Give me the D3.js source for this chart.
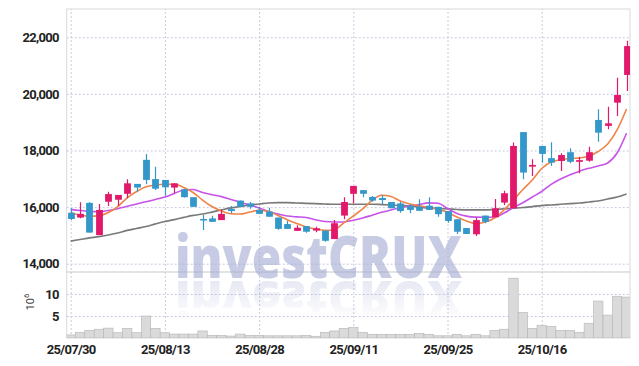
<!DOCTYPE html>
<html><head><meta charset="utf-8">
<script src="https://cdn.jsdelivr.net/npm/d3@7"></script>
<style>html,body{margin:0;padding:0;background:#fff;} svg{display:block;}</style>
</head><body><svg id="c" width="639" height="366"></svg>
<script>
const dates = ["25/07/30","25/07/31","25/08/01","25/08/04","25/08/05","25/08/06","25/08/07","25/08/08","25/08/11","25/08/12",
"25/08/13","25/08/14","25/08/18","25/08/19","25/08/20","25/08/21","25/08/22","25/08/25","25/08/26","25/08/27",
"25/08/28","25/08/29","25/09/01","25/09/02","25/09/03","25/09/04","25/09/05","25/09/08","25/09/09","25/09/10",
"25/09/11","25/09/12","25/09/15","25/09/16","25/09/17","25/09/18","25/09/19","25/09/22","25/09/23","25/09/24",
"25/09/25","25/09/26","25/09/29","25/09/30","25/10/01","25/10/02","25/10/10","25/10/13","25/10/14","25/10/15",
"25/10/16","25/10/17","25/10/20","25/10/21","25/10/22","25/10/23","25/10/24","25/10/27","25/10/28","25/10/29"];
const open  = [15800,15630,16150,15010,16190,16260,16470,16820,17670,16990,16960,16690,16630,16350,15580,15600,15540,15930,16230,16130,
15900,15840,15630,15400,15160,15330,15170,15170,14870,15700,16470,16600,16360,16320,16180,16130,16040,16010,16050,16010,
15860,15570,15260,15040,15700,15640,16160,15960,18650,17430,18160,17730,17630,17940,17600,17640,19080,18870,19690,20670];
const high  = [15960,16170,16170,16110,16540,16430,16980,16820,17880,17430,16960,16840,16650,16350,15720,15690,15900,16040,16230,16180,
16010,15980,15630,15520,15360,15330,15310,15170,15540,16350,16750,16600,16390,16430,16180,16190,16100,16280,16350,16010,
15860,15570,15260,15620,15700,16290,16580,18280,18650,17690,18160,18290,17900,18080,17780,18130,19460,19550,20570,21880];
const low   = [15540,15610,15090,15010,16040,16040,16310,16540,16810,16600,16400,16490,16340,16000,15190,15480,15540,15780,16010,15940,
15750,15660,15200,15230,15160,15090,15110,14780,14870,15570,16130,16350,16190,16110,15960,15800,15780,15870,15900,15660,
15450,15050,15050,14980,15430,15640,16070,15960,16980,17100,17570,17450,17280,17550,17200,17600,18310,18750,19220,20100];
const close = [15580,15760,15100,15900,16460,16430,16840,16690,16960,16650,16700,16840,16350,16010,15540,15480,15760,15860,16010,16010,
15760,15660,15230,15230,15270,15130,15250,14810,15430,16180,16750,16470,16230,16250,15960,15860,15900,15870,15900,15750,
15510,15130,15050,15540,15480,15960,16490,18160,17220,17490,17880,17570,17840,17600,17660,17940,18630,18960,19960,21690];
const volume = [0.7,1.3,1.75,2.0,2.25,1.2,2.2,1.2,5.0,2.2,1.2,0.9,0.9,0.9,1.6,0.6,0.6,0.45,0.9,0.6,
0.6,0.5,0.5,0.5,0.5,0.6,0.4,1.3,1.6,2.2,2.4,1.3,0.85,0.85,0.85,0.85,0.85,1.05,0.85,0.5,
0.5,0.85,0.5,0.85,0.5,1.75,2.0,13.6,5.8,2.2,2.9,2.65,1.75,1.75,1.3,3.35,8.4,5.2,9.5,9.3];
const ma5 = [15800,15720,15675,15690,15810,16020,16330,16550,16720,16780,16805,16805,16695,16515,16250,16020,15860,15765,15755,15825,
15885,15845,15705,15555,15420,15300,15225,15180,15210,15440,15685,15935,16235,16420,16375,16215,16110,16045,15995,15920,
15815,15650,15510,15415,15475,15615,15900,16250,16620,16960,17365,17595,17670,17720,17735,17805,17965,18230,18725,19465];
const ma10 = [15920,15880,15850,15840,15880,15945,16030,16110,16190,16270,16355,16480,16605,16620,16515,16435,16370,16270,16170,16075,
15970,15845,15755,15685,15655,15635,15550,15490,15475,15475,15535,15615,15715,15815,15900,15970,16040,16090,16150,16135,
15950,15775,15680,15645,15640,15650,15790,15985,16155,16355,16550,16805,16995,17140,17270,17370,17455,17560,17910,18610];
const ma60 = [14800,14855,14910,14955,15015,15085,15175,15245,15315,15405,15490,15560,15635,15705,15755,15825,15900,15970,16020,16075,
16110,16145,16155,16155,16145,16135,16125,16110,16100,16100,16100,16100,16100,16090,16075,16055,16040,16005,15970,15950,
15935,15915,15900,15900,15900,15915,15935,15960,15985,16020,16055,16075,16100,16125,16145,16180,16215,16285,16355,16465];
const priceTicks = [14000,16000,18000,20000,22000];
const volTicks = [5,10];
const dateTicks = ["25/07/30","25/08/13","25/08/28","25/09/11","25/09/25","25/10/16"];

const L = 66.7, R = 630, T = 9, PB = 272, VB = 338;
const svg = d3.select("#c");
const idx = d3.range(dates.length);
const x = d3.scaleLinear().domain([-0.42, 59.37]).range([L, R]);
const y = d3.scaleLinear().domain([14000, 22000]).range([263.7, 37.3]);
const yv = d3.scaleLinear().domain([0, 15]).range([VB, PB]);
const UP = "#e2186b", DOWN = "#3497c9";
const gridColor = "#c9cae0";
const font = "Roboto, 'Noto Sans', sans-serif";

const defs = svg.append("defs");
defs.append("clipPath").attr("id","cp").append("rect").attr("x",L).attr("y",T).attr("width",R-L).attr("height",PB-T);
defs.append("clipPath").attr("id","cv").append("rect").attr("x",L).attr("y",PB).attr("width",R-L).attr("height",VB-PB);
const lg = defs.append("linearGradient").attr("id","fade")
  .attr("gradientUnits","userSpaceOnUse").attr("x1",0).attr("x2",0).attr("y1",280).attr("y2",320);
lg.append("stop").attr("offset",0).attr("stop-color","#fff").attr("stop-opacity",0.55);
lg.append("stop").attr("offset",1).attr("stop-color","#fff").attr("stop-opacity",0);
defs.append("mask").attr("id","fm").attr("maskUnits","userSpaceOnUse").attr("x",0).attr("y",0).attr("width",639).attr("height",366)
  .append("rect").attr("x",0).attr("y",280).attr("width",639).attr("height",50).attr("fill","url(#fade)");

// panel frames
svg.append("rect").attr("x",L).attr("y",T).attr("width",R-L).attr("height",PB-T).attr("fill","none").attr("stroke","#d9d9d9");
svg.append("rect").attr("x",L).attr("y",PB).attr("width",R-L).attr("height",VB-PB).attr("fill","none").attr("stroke","#d9d9d9");

// grids + labels
const ya = svg.append("g").attr("transform",`translate(${L},0)`)
  .call(d3.axisLeft(y).tickValues(priceTicks).tickFormat(d3.format(",")).tickSizeInner(-(R-L)).tickSizeOuter(0).tickPadding(8));
const va = svg.append("g").attr("transform",`translate(${L},0)`)
  .call(d3.axisLeft(yv).tickValues(volTicks).tickFormat(d3.format("d")).tickSizeInner(-(R-L)).tickSizeOuter(0).tickPadding(8));
const xa = svg.append("g").attr("transform",`translate(0,${VB})`)
  .call(d3.axisBottom(x).tickValues(dateTicks.map(d=>dates.indexOf(d))).tickFormat(i=>dates[i]).tickSizeInner(-(VB-T)).tickSizeOuter(0).tickPadding(7));
[ya,va,xa].forEach(g=>{
  g.select(".domain").remove();
  g.selectAll(".tick line").attr("stroke",gridColor).attr("stroke-dasharray","2,2");
  g.selectAll(".tick text").attr("fill","#222").style("font-family",font).style("font-size","13px").style("font-weight","700").style("letter-spacing","-0.7px");
});

// unit label
const ul = svg.append("text").attr("transform","translate(34,302) rotate(-90)").attr("text-anchor","middle")
  .style("font-family",font).attr("fill","#444").style("font-size","11px");
ul.append("tspan").text("10");
ul.append("tspan").attr("dy",-5).style("font-size","8px").text("6");

// watermark + faded, slightly compressed reflection
const wmStyle = s => s.style("font-family","'Open Sans', Lato, sans-serif").style("font-weight","800").style("font-size","58px")
  .attr("textLength",287).attr("lengthAdjust","spacingAndGlyphs").attr("fill","#a4acd4");
svg.append("text").attr("x",175).attr("y",278).text("investCRUX").call(wmStyle).attr("fill-opacity",0.62);
svg.append("g").attr("mask","url(#fm)").append("text").attr("x",175).attr("y",278)
  .attr("transform",`translate(0,${281 + 0.82*278}) scale(1,-0.82)`).text("investCRUX").call(wmStyle).attr("fill-opacity",0.5);

// volume bars
const bw = x(1)-x(0);
svg.append("g").attr("clip-path","url(#cv)").selectAll("rect").data(idx).join("rect")
  .attr("x",i=>x(i)-bw/2).attr("width",bw).attr("y",i=>yv(volume[i])).attr("height",i=>yv(0)-yv(volume[i]))
  .attr("fill","#dadada").attr("stroke","#b5b5b5").attr("stroke-width",0.6);

// MA lines
const pg = svg.append("g").attr("clip-path","url(#cp)");
const line = arr => d3.line().x(i=>x(i)).y(i=>y(arr[i])).curve(d3.curveMonotoneX)(idx);
pg.append("path").attr("d",line(ma60)).attr("fill","none").attr("stroke","#7a7a7a").attr("stroke-width",1.7);
pg.append("path").attr("d",line(ma10)).attr("fill","none").attr("stroke","#c853e8").attr("stroke-width",1.6);
pg.append("path").attr("d",line(ma5)).attr("fill","none").attr("stroke","#ee8448").attr("stroke-width",1.6);

// candles
const cw = 6.8;
const cg = pg.selectAll("g.c").data(idx).join("g").attr("class","c");
cg.append("line").attr("x1",i=>Math.round(x(i))+0.5).attr("x2",i=>Math.round(x(i))+0.5)
  .attr("y1",i=>y(high[i])).attr("y2",i=>y(low[i]))
  .attr("stroke",i=>close[i]>=open[i]?UP:DOWN).attr("stroke-width",1.2);
cg.append("rect").attr("x",i=>Math.round(x(i))+0.5-cw/2).attr("width",cw)
  .attr("y",i=>y(Math.max(open[i],close[i])))
  .attr("height",i=>Math.max(1.5,Math.abs(y(open[i])-y(close[i]))))
  .attr("fill",i=>close[i]>=open[i]?UP:DOWN);
</script></body></html>
